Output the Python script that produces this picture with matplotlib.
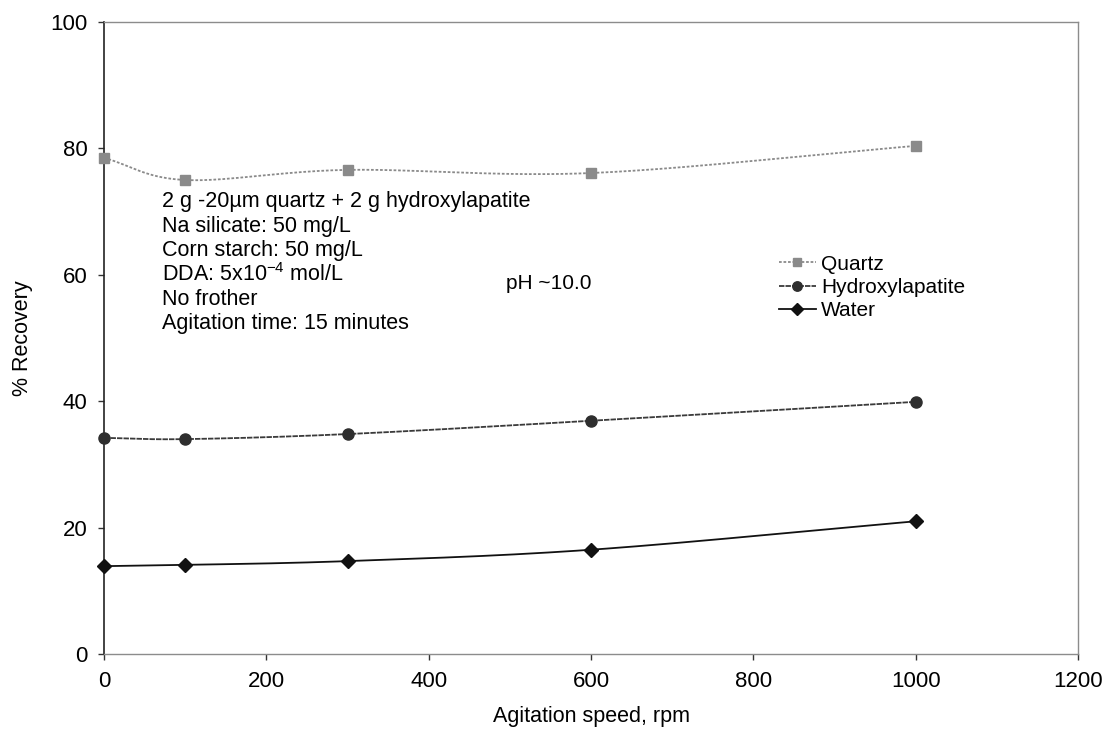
import numpy as np
import matplotlib
matplotlib.use("Agg")
import matplotlib.pyplot as plt
from matplotlib.lines import Line2D

plt.rcParams['font.family'] = ['Liberation Sans', 'DejaVu Sans']
plt.rcParams['mathtext.fontset'] = 'custom'
plt.rcParams['mathtext.rm'] = 'Liberation Sans'
plt.rcParams['mathtext.default'] = 'regular'

# Agitation speed (rpm) and % recovery per stream
speed = [0, 100, 300, 600, 1000]
quartz = [78.5, 75.0, 76.6, 76.1, 80.4]
hydroxylapatite = [34.2, 34.0, 34.8, 36.9, 39.9]
water = [13.9, 14.1, 14.7, 16.5, 21.0]

xticks = [0, 200, 400, 600, 800, 1000, 1200]
yticks = [0, 20, 40, 60, 80, 100]

conditions = [
    "2 g -20\u00b5m quartz + 2 g hydroxylapatite",
    "Na silicate: 50 mg/L",
    "Corn starch: 50 mg/L",
    r"DDA: 5x10$^{\mathrm{-4}}$ mol/L",
    "No frother",
    "Agitation time: 15 minutes",
]


def smooth(x, y, n=40):
    """Cardinal (Catmull-Rom) spline through the points, like a smoothed line chart."""
    x = np.asarray(x, float)
    y = np.asarray(y, float)
    px = np.concatenate([[2 * x[0] - x[1]], x, [2 * x[-1] - x[-2]]])
    py = np.concatenate([[2 * y[0] - y[1]], y, [2 * y[-1] - y[-2]]])
    xs, ys = [], []
    t = np.linspace(0, 1, n)
    for i in range(1, len(px) - 2):
        p0, p1, p2, p3 = (np.array([px[j], py[j]]) for j in (i - 1, i, i + 1, i + 2))
        c1 = p1 + (p2 - p0) / 6
        c2 = p2 - (p3 - p1) / 6
        b = ((1 - t) ** 3)[:, None] * p1 + (3 * (1 - t) ** 2 * t)[:, None] * c1 \
            + (3 * (1 - t) * t ** 2)[:, None] * c2 + (t ** 3)[:, None] * p2
        xs.append(b[:, 0])
        ys.append(b[:, 1])
    return np.concatenate(xs), np.concatenate(ys)


fig = plt.figure(figsize=(11.09, 7.40), dpi=100)
ax = fig.add_axes([0.0938, 0.1162, 0.8783, 0.8541])

series = [
    ("Quartz", quartz, "#8a8a8a", (0, (1.5, 1)), "s", 7, "#8a8a8a"),
    ("Hydroxylapatite", hydroxylapatite, "#3a3a3a", (0, (3, 0.6)), "o", 8, "#2e2e2e"),
    ("Water", water, "#111111", "-", "D", 7, "#111111"),
]

handles = []
for name, vals, lc, ls, mk, ms, mc in series:
    sx, sy = smooth(speed, vals)
    ax.plot(sx, sy, color=lc, lw=1.3, ls=ls, zorder=2)
    ax.plot(speed, vals, ls="none", marker=mk, ms=ms, color=mc, zorder=3, clip_on=False)
    handles.append(Line2D([], [], color=lc, lw=1.3, ls=ls, marker=mk, ms=ms,
                          markerfacecolor=mc, markeredgecolor=mc, label=name))

ax.set_xlim(0, 1200)
ax.set_ylim(0, 100)
ax.set_xticks(xticks)
ax.set_yticks(yticks)
ax.tick_params(labelsize=16, length=4, width=1, color="#333333", pad=8)

for side in ("top", "right", "bottom"):
    ax.spines[side].set_color("#8c8c8c")
    ax.spines[side].set_linestyle((0, (1.5, 1)))
    ax.spines[side].set_linewidth(1.0)
ax.spines["left"].set_color("#222222")
ax.spines["left"].set_linewidth(1.2)

ax.set_xlabel("Agitation speed, rpm", fontsize=15.5, labelpad=10)
ax.set_ylabel("% Recovery", fontsize=15.5, labelpad=12)

y0 = 71.55
for i, line in enumerate(conditions):
    ax.text(72, y0 - i * 3.85, line, fontsize=15.5, va="center", ha="left")

ax.text(495, 58.6, "pH ~10.0", fontsize=15, va="center", ha="left")

ax.legend(handles=handles, loc="upper left", bbox_to_anchor=(0.684, 0.645),
          frameon=False, fontsize=15, handlelength=1.8, handletextpad=0.25,
          labelspacing=0.2, borderaxespad=0, markerscale=0.85)

fig.savefig("out.png", dpi=100)
